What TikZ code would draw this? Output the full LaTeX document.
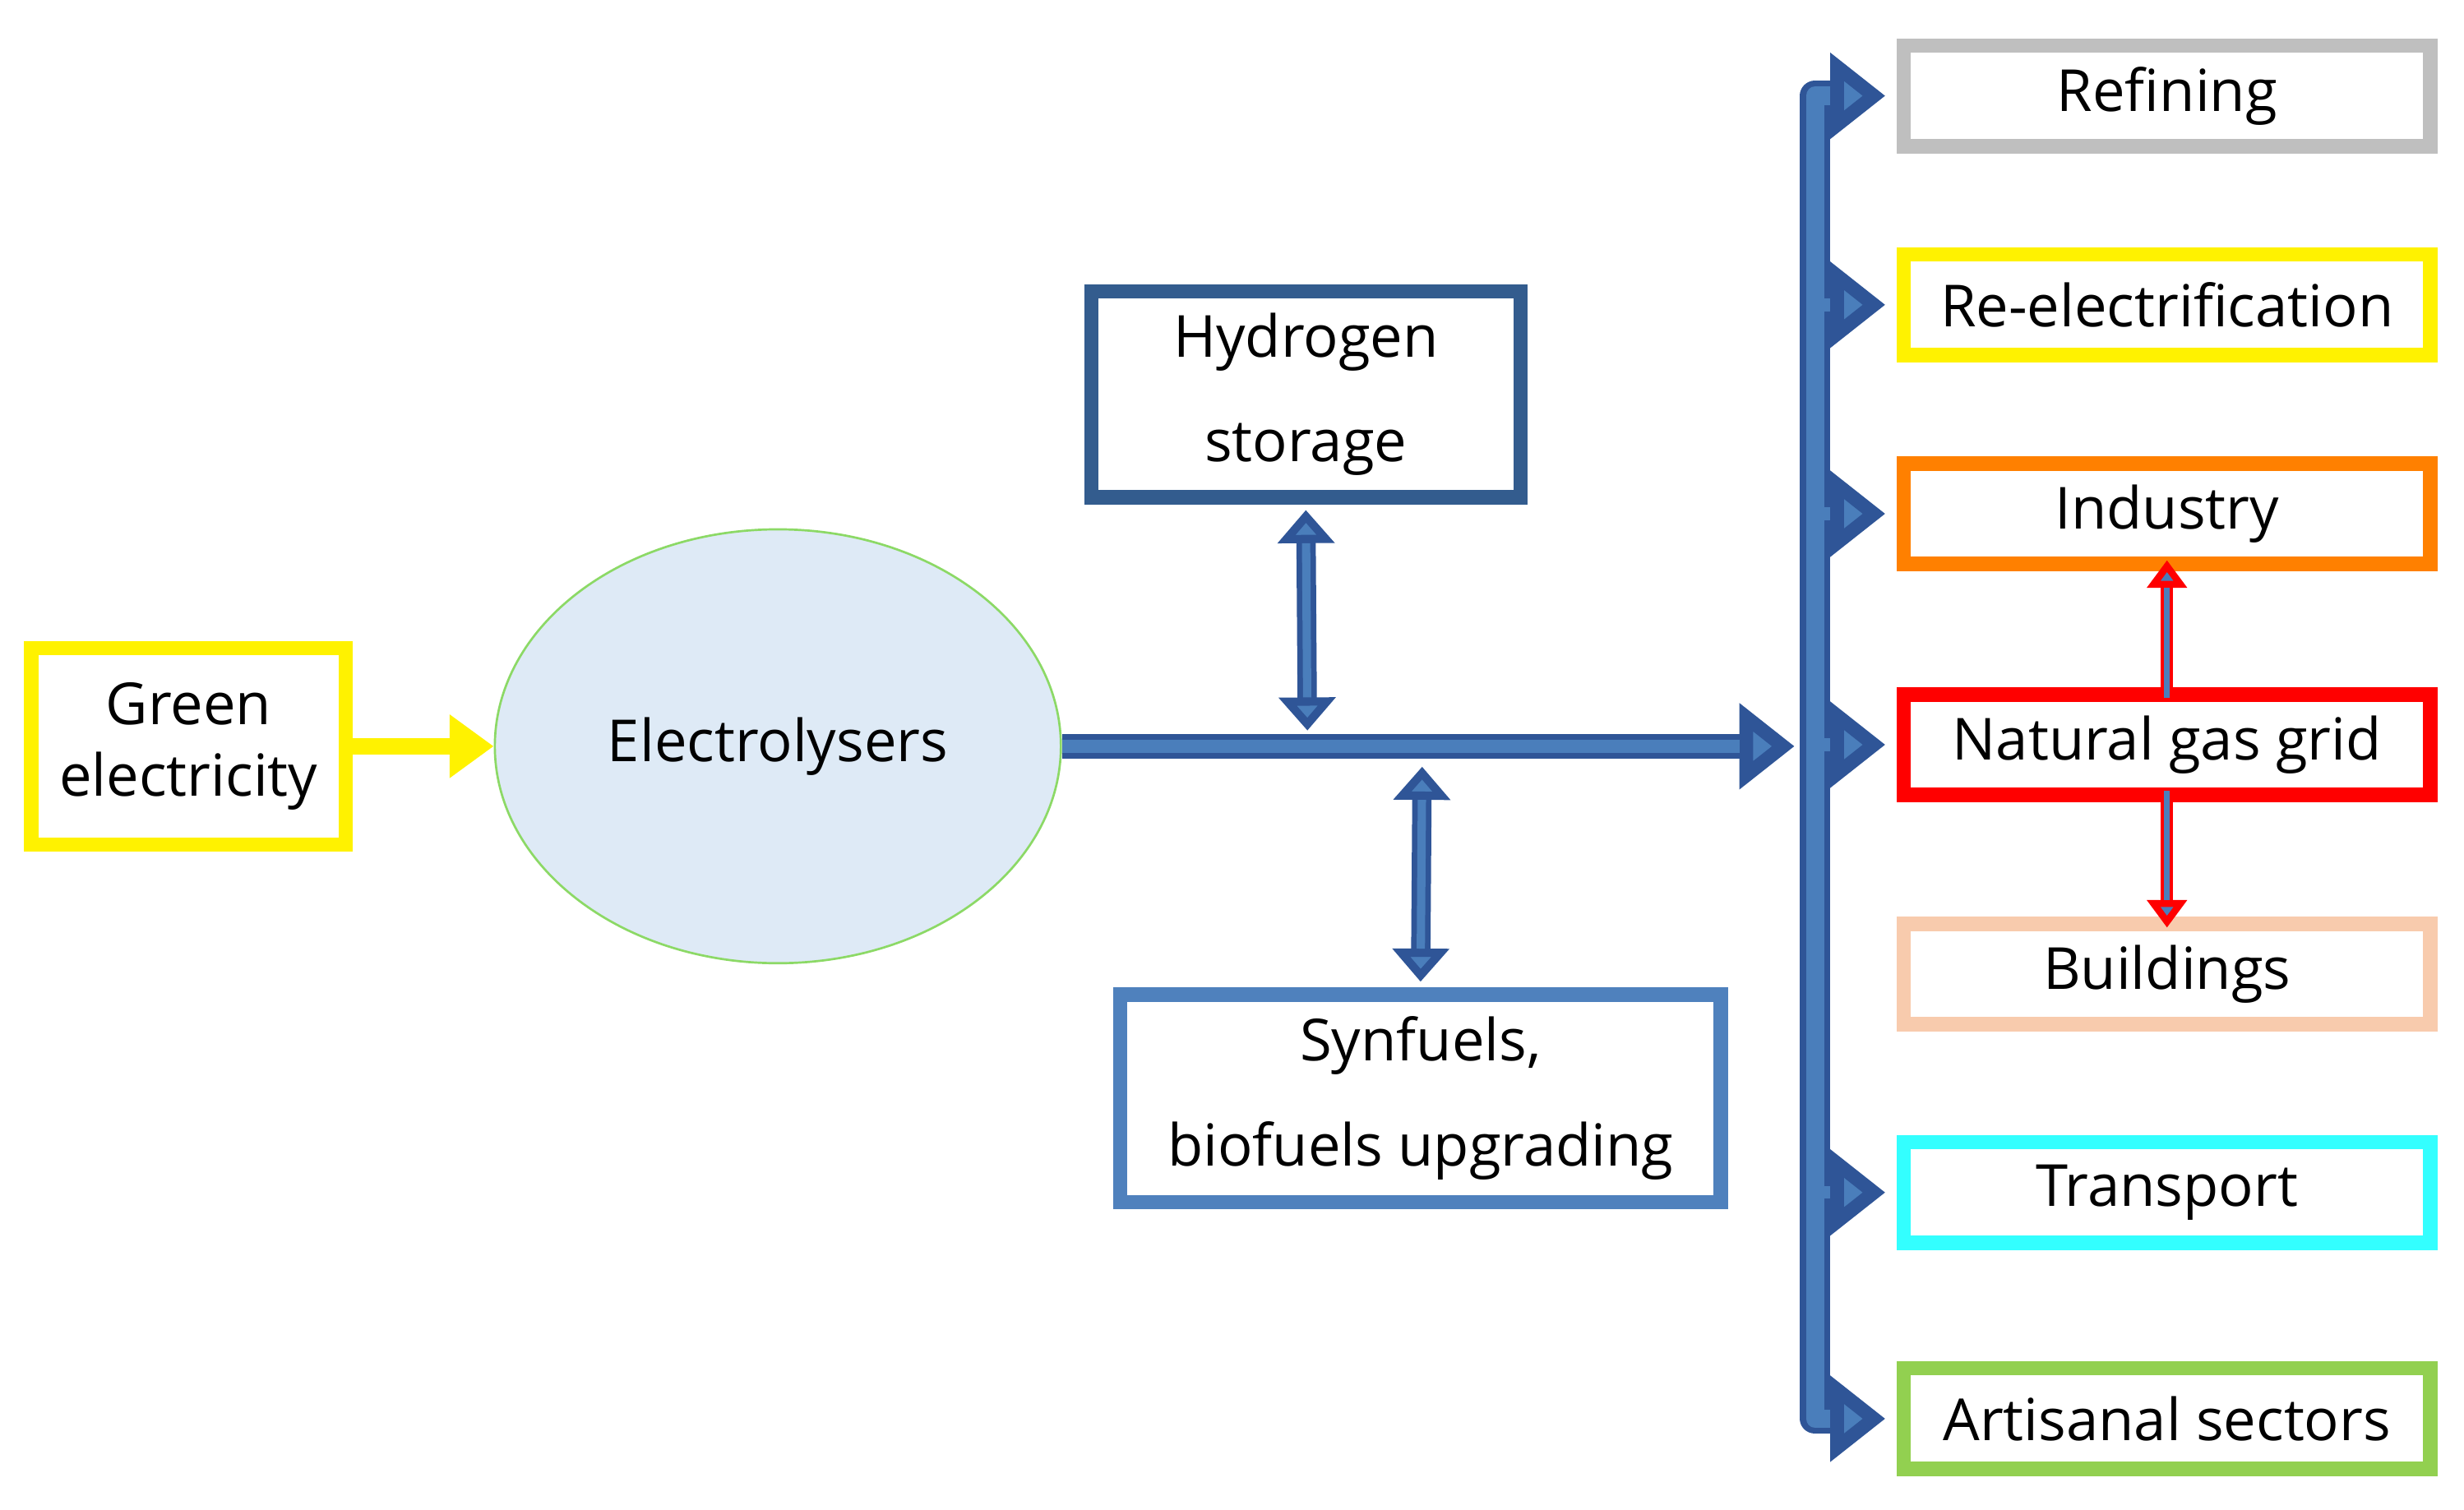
\documentclass[tikz,border=0pt]{standalone}
\usepackage{fontspec}
\setmainfont{Open Sans}
\usetikzlibrary{arrows.meta,shapes.geometric}
\definecolor{pipe}{HTML}{4A7EBB}
\definecolor{pipedark}{HTML}{2F5597}
\definecolor{hsb}{HTML}{335C8E}
\definecolor{syn}{HTML}{4F81BD}
\definecolor{ell}{HTML}{DEEAF6}
\begin{document}
\begin{tikzpicture}[x=0.01cm,y=-0.01cm,
  box/.style={draw,line width=2.6pt,minimum width=#1,inner sep=0pt,font=\fontsize{10.5}{13}\selectfont},
  rbox/.style={draw,line width=2.6pt,minimum width=3.35cm,minimum height=0.64cm,inner sep=0pt,font=\fontsize{10.5}{13}\selectfont},
  pipeA/.style={draw=pipedark,line width=4.5pt,-{Triangle[length=10pt,width=15pt,fill=pipe]}},
  pipeB/.style={draw=pipedark,line width=3.5pt,{Triangle[length=6pt,width=10pt,fill=pipe]}-{Triangle[length=6pt,width=10pt,fill=pipe]}},
  inner/.style={draw=pipe,line width=2.3pt,shorten >=10pt},
  innerB/.style={draw=pipe,line width=1.5pt,shorten >=6pt,shorten <=6pt},
  redp/.style={draw=red,line width=2.2pt,-{Triangle[length=5pt,width=7pt,fill=pipe]}}]
\useasboundingbox (0,0) rectangle (1568,961);
\node[box=2cm,draw=yellow,minimum height=1.25cm,align=center] (ge) at (120,475) {Green\\electricity};
\node[ellipse,draw=green!50!olive!60,fill=ell,inner sep=0pt,minimum width=3.6cm,minimum height=2.76cm,font=\fontsize{10.5}{13}\selectfont] (el) at (495,475) {Electrolysers};
\node[box=2.73cm,draw=hsb,minimum height=1.31cm,align=center,font=\fontsize{10.5}{19}\selectfont] (hs) at (831,251) {Hydrogen\\storage};
\node[box=3.82cm,draw=syn,minimum height=1.32cm,align=center,font=\fontsize{10.5}{19}\selectfont] (sy) at (904,699) {Synfuels,\\biofuels upgrading};
\node[rbox,draw=black!25] (r1) at (1379,61) {Refining};
\node[rbox,draw=yellow] (r2) at (1379,194) {Re-electrification};
\node[rbox,draw={rgb,255:red,255;green,128;blue,0}] (r3) at (1379,327) {Industry};
\node[rbox,draw=red] (r4) at (1379,474) {Natural gas grid};
\node[rbox,draw={rgb,255:red,248;green,203;blue,173}] (r5) at (1379,620) {Buildings};
\node[rbox,draw={rgb,255:red,51;green,255;blue,255}] (r6) at (1379,759) {Transport};
\node[rbox,draw={rgb,255:red,146;green,208;blue,80}] (r7) at (1379,903) {Artisanal sectors};
\coordinate (bt) at (1155,61);
\coordinate (bb) at (1155,903);
\coordinate (m1) at (832,465);
\coordinate (m2) at (905,488);
\draw[yellow,line width=3pt,-{Triangle[length=8pt,width=11pt]}] (ge) -- (el);
\draw[pipeA] (el) -- (1142,475);
\draw[inner] (el) -- (1142,475);
\draw[pipeB] ([yshift=-1pt]hs.south) -- (m1);
\draw[innerB] ([yshift=-1pt]hs.south) -- (m1);
\draw[pipeB] (m2) -- ([yshift=1pt]sy.north);
\draw[innerB] (m2) -- ([yshift=1pt]sy.north);
\draw[draw=pipedark,line width=5.5pt,line join=round,{Triangle[length=10pt,width=15pt,fill=pipe]}-{Triangle[length=10pt,width=15pt,fill=pipe]}] ([xshift=-2pt]r1.west) -- (bt) -- (bb) -- ([xshift=-2pt]r7.west);
\foreach \r in {r2,r3,r4,r6}{\draw[pipeA] (bt |- \r.west) -- ([xshift=-2pt]\r.west);}
\draw[pipe,line width=3.3pt,line join=round,shorten <=10pt,shorten >=10pt] ([xshift=-2pt]r1.west) -- (bt) -- (bb) -- ([xshift=-2pt]r7.west);
\foreach \r in {r2,r3,r4,r6}{\draw[inner] (bt |- \r.west) -- ([xshift=-2pt]\r.west);}
\draw[redp] ([yshift=-2pt]r4.north) -- ([yshift=2pt]r3.south);
\draw[redp] ([yshift=2pt]r4.south) -- ([yshift=-2pt]r5.north);
\draw[pipe,line width=1pt,shorten >=5pt] ([yshift=-2pt]r4.north) -- ([yshift=2pt]r3.south);
\draw[pipe,line width=1pt,shorten >=5pt] ([yshift=2pt]r4.south) -- ([yshift=-2pt]r5.north);
\end{tikzpicture}
\end{document}
